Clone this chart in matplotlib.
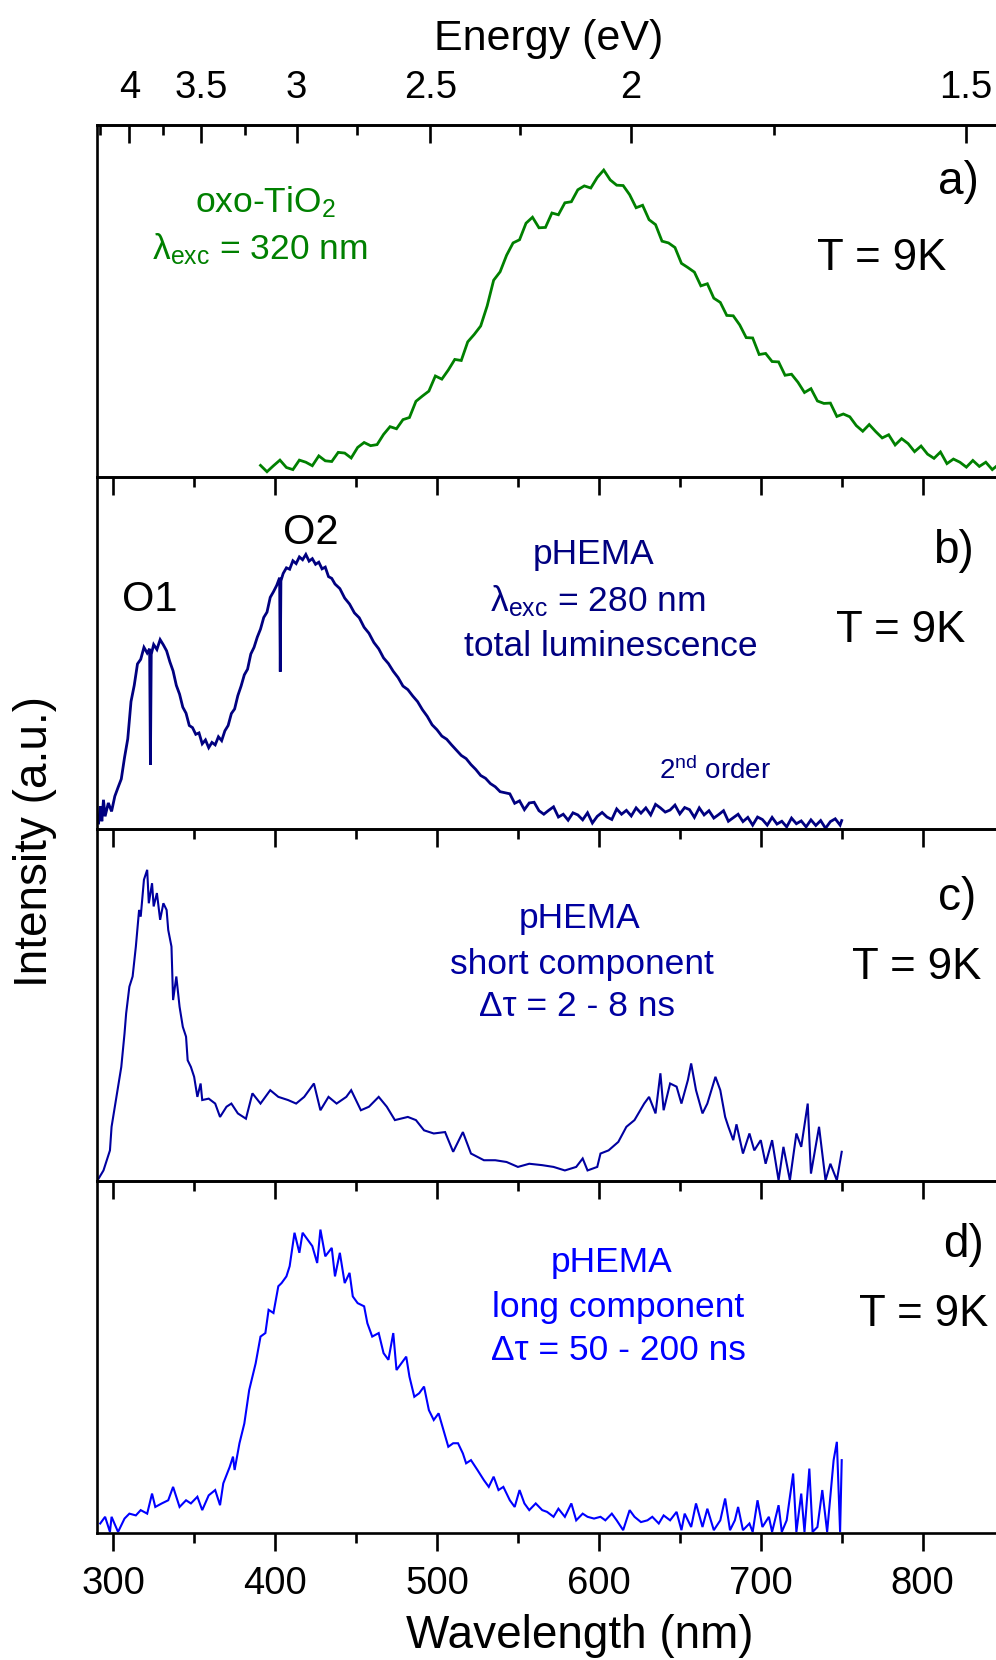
import numpy as np
import matplotlib
matplotlib.use("Agg")
import matplotlib.pyplot as plt
from matplotlib.ticker import FixedLocator, NullFormatter

plt.rcParams['font.family'] = ['Liberation Sans', 'DejaVu Sans']
plt.rcParams['mathtext.fontset'] = 'custom'
plt.rcParams['mathtext.rm'] = 'Liberation Sans'
plt.rcParams['mathtext.it'] = 'Liberation Sans:italic'
plt.rcParams['mathtext.bf'] = 'Liberation Sans:bold'

# ---------------- data (intensity in % of panel height, a.u.) ----------------
wl_a = np.arange(391, 848, 4)
int_a = [3.3, 1.5, 3.2, 4.8, 2.7, 2.1, 4.8, 4.2, 3.2, 6.0, 4.6, 4.4, 7.0, 6.8, 5.4, 8.4,
         9.8, 8.9, 9.2, 12.1, 14.3, 13.7, 16.3, 16.9, 21.5, 23.0, 24.4, 28.7, 27.8, 30.4,
         33.4, 33.1, 38.4, 40.5, 42.9, 48.6, 55.9, 58.3, 63.0, 66.5, 67.4, 72.1, 73.8, 70.8,
         70.9, 75.0, 74.5, 77.9, 78.2, 81.6, 82.7, 82.1, 85.1, 87.2, 84.4, 82.9, 82.8, 80.2,
         76.5, 77.2, 73.1, 71.7, 67.0, 66.5, 65.2, 60.7, 59.5, 58.2, 54.3, 54.9, 50.8, 49.6,
         45.9, 45.8, 43.2, 39.6, 39.5, 34.8, 35.1, 32.8, 32.7, 28.9, 29.2, 26.9, 24.0, 25.1,
         21.6, 20.9, 21.0, 17.2, 17.9, 17.1, 14.6, 13.0, 14.9, 12.9, 11.1, 12.0, 9.1, 10.9,
         9.5, 7.2, 8.8, 6.5, 5.3, 7.1, 3.8, 5.1, 4.2, 2.8, 4.7, 3.0, 4.2, 2.1, 3.6]

wl_b = [291, 292, 293, 294, 295, 297, 299, 301, 303, 305, 307, 309, 311, 313, 315, 317, 319, 321,
        322.5, 323, 323.5, 325, 327, 329, 331, 333, 335, 337, 339, 341, 343, 345, 347, 349, 351,
        353, 355, 357, 359, 361, 363, 365, 367, 369, 371, 373, 375, 377, 379, 381, 383, 385, 387,
        389, 391, 393, 395, 397, 399, 401, 402.8, 403.2, 403.6, 405, 407, 409, 411, 413, 415, 417,
        419, 421, 423, 425, 427, 429, 431, 433, 435, 437, 440, 443, 446, 449, 452, 455, 458, 461,
        464, 467, 470, 473, 476, 479, 482, 485, 488, 491, 494, 497, 500, 503, 506, 509, 512, 515,
        518, 521, 524, 527, 530, 533, 536, 539, 542, 545, 548, 551, 554, 557, 560, 563, 566, 569,
        572, 575, 578, 581, 584, 587, 590, 593, 596, 599, 602, 605, 608, 611, 614, 617, 620, 623,
        626, 629, 632, 635, 638, 641, 644, 647, 650, 653, 656, 659, 662, 665, 668, 671, 674, 677,
        680, 683, 686, 689, 692, 695, 698, 701, 704, 707, 710, 713, 716, 719, 722, 725, 728, 731,
        734, 737, 740, 743, 746, 749, 750]
int_b = [1.7, 6.5, 2.2, 8.3, 3.6, 7.4, 5.0, 9.3, 11.8, 14.2, 20.3, 25.6, 36.2, 40.8, 46.9, 48.2,
         51.6, 50.0, 51.2, 18.2, 49.6, 52.4, 51.0, 53.8, 52.3, 50.6, 47.5, 44.9, 40.8, 38.3, 34.6,
         32.9, 29.4, 28.8, 26.9, 27.3, 24.2, 25.3, 23.1, 24.6, 23.9, 26.2, 25.1, 27.9, 29.4, 32.8,
         34.1, 37.9, 40.6, 43.8, 45.4, 49.7, 51.6, 54.5, 56.8, 60.1, 61.6, 65.8, 67.4, 69.2, 71.4,
         44.7, 70.5, 72.6, 74.2, 73.8, 76.2, 75.4, 77.3, 76.5, 78.0, 76.1, 76.8, 75.2, 75.8, 73.9,
         74.4, 71.7, 71.2, 69.6, 68.3, 65.6, 63.9, 61.4, 60.0, 57.3, 55.6, 53.0, 51.2, 48.6, 47.0,
         44.8, 43.0, 40.6, 39.6, 37.8, 36.2, 33.9, 32.0, 29.6, 28.2, 26.4, 25.5, 23.9, 22.4, 20.9,
         20.0, 18.3, 16.9, 15.2, 14.4, 12.9, 12.0, 10.6, 10.3,
         10.0, 7.3, 8.0, 5.5, 7.4, 7.6, 5.2, 4.2, 5.3, 6.3, 3.4, 4.2, 2.5, 4.6, 4.0, 2.6, 4.6,
         1.7, 3.6, 4.7, 3.4, 2.7, 5.7, 4.2, 5.3, 3.7, 6.0, 4.5, 6.0, 4.0, 7.0, 6.0, 4.8, 5.4,
         6.8, 4.3, 6.1, 5.5, 3.3, 6.0, 4.0, 5.2, 3.1, 4.1, 5.2, 2.2, 3.2, 4.2, 2.1, 3.3, 1.1,
         3.4, 2.7, 1.1, 3.3, 1.4, 2.2, 0.6, 3.1, 1.5, 2.3, 0.6, 2.6, 1.0, 2.4, 0.2, 2.1, 2.9,
         1.1, 2.4]

wl_c = [291, 294, 298, 299, 302, 305, 307, 308, 310, 312, 314, 316, 317, 319, 321, 322, 324, 325,
        327, 329, 331, 333, 334, 336, 337, 339, 341, 343, 345, 346, 348, 350, 352, 354, 355, 359,
        363, 366, 370, 373, 377, 382, 386, 391, 397, 402, 408, 413, 418, 424, 428, 433, 438, 444,
        447, 453, 458, 464, 469, 474, 482, 487, 492, 498, 505, 510, 516, 521, 529, 536, 543, 550,
        557, 565, 572, 579, 586, 590, 593, 599, 601, 606, 612, 617, 622, 628, 631, 635, 638, 640,
        644, 648, 651, 655, 657, 660, 664, 667, 672, 675, 678, 680, 683, 685, 689, 693, 696, 700,
        703, 707, 711, 714, 718, 722, 725, 729, 731, 736, 740, 743, 747, 750]
int_c = [0.7, 3.0, 8.7, 15.4, 23.9, 32.4, 41.9, 47.6, 55.2, 58.1, 66.6, 77.0, 75.1, 85.6, 88.4,
         78.9, 84.6, 78.0, 81.8, 74.2, 78.9, 77.0, 71.3, 66.6, 51.4, 58.1, 49.5, 43.8, 41.0, 34.3,
         32.4, 29.6, 23.9, 27.7, 23.0, 23.4, 22.0, 18.2, 21.1, 22.0, 19.2, 17.7, 24.9, 22.0, 25.8,
         23.9, 23.0, 22.0, 23.9, 27.7, 20.1, 23.9, 22.0, 23.9, 25.8, 20.1, 21.1, 23.9, 21.1, 17.3,
         18.2, 17.3, 14.4, 13.5, 13.9, 8.3, 13.9, 7.8, 5.9, 5.9, 5.4, 4.0, 4.9, 4.5, 4.0, 3.0, 4.0,
         6.4, 3.0, 4.0, 7.8, 8.7, 11.1, 15.4, 17.3, 22.0, 23.9, 19.2, 30.6, 20.1, 27.7, 26.8, 22.0,
         28.7, 33.4, 25.8, 19.2, 22.0, 29.6, 25.8, 18.2, 15.4, 11.6, 16.1, 7.8, 13.5, 8.7, 11.6,
         4.9, 11.6, 0.2, 9.7, 0.2, 13.5, 9.7, 22.0, 2.1, 15.4, 0.2, 4.9, 0.2, 8.3]

wl_d = [292, 295, 298, 299, 303, 307, 310, 314, 317, 321, 324, 326, 330, 334, 337, 341, 345, 348,
        352, 355, 359, 363, 366, 368, 372, 374, 375, 378, 381, 384, 386, 388, 391, 394, 396, 399,
        402, 404, 407, 409, 412, 415, 417, 420, 423, 426, 428, 431, 435, 437, 440, 443, 446, 448,
        451, 455, 457, 460, 464, 467, 470, 473, 475, 478, 481, 483, 486, 489, 492, 495, 498, 501,
        504, 507, 510, 513, 516, 518, 521, 525, 529, 532, 535, 538, 541, 545, 548, 551, 554, 557,
        561, 565, 568, 572, 575, 579, 583, 586, 590, 593, 597, 601, 604, 608, 611, 615, 619, 622,
        626, 630, 633, 637, 640, 644, 648, 651, 653, 657, 660, 664, 667, 671, 675, 678, 681, 684,
        686, 689, 693, 695, 698, 701, 705, 707, 711, 713, 716, 720, 722, 725, 727, 730, 732, 735,
        738, 741, 745, 747, 749, 750]
int_d = [2.7, 4.6, 0.3, 4.6, 0.3, 4.1, 5.5, 5.0, 6.5, 5.5, 11.2, 7.4, 8.4, 9.3, 13.1, 7.4, 9.3,
         8.4, 10.3, 6.5, 10.7, 12.2, 7.9, 14.1, 18.8, 21.7, 17.9, 25.5, 31.1, 40.6, 44.4, 48.2,
         55.8, 56.8, 63.4, 62.5, 70.1, 71.0, 72.9, 75.8, 85.3, 79.6, 85.3, 83.4, 81.5, 76.7, 86.2,
         78.6, 81.0, 72.9, 79.6, 71.0, 73.9, 67.2, 65.3, 64.4, 59.6, 55.8, 56.8, 51.1, 49.2, 56.8,
         46.3, 48.2, 50.1, 44.4, 38.7, 39.7, 41.6, 34.9, 32.1, 34.0, 29.2, 24.5, 25.5, 25.5, 22.6,
         19.8, 20.7, 17.9, 15.0, 13.1, 16.0, 12.2, 13.1, 9.3, 7.4, 12.2, 8.4, 6.5, 8.4, 6.5, 6.0,
         4.6, 6.9, 4.6, 8.4, 3.6, 5.5, 4.6, 4.1, 4.6, 3.6, 5.5, 3.6, 0.8, 6.5, 4.6, 3.1, 3.6, 4.6,
         2.7, 5.0, 3.6, 6.0, 0.8, 5.5, 1.7, 8.4, 1.7, 6.9, 0.8, 3.6, 9.8, 0.8, 3.6, 7.4, 0.8, 2.7,
         0.3, 9.3, 1.7, 4.6, 0.3, 7.9, 0.3, 3.6, 16.9, 0.3, 11.2, 0.3, 18.3, 0.3, 1.7, 12.2, 0.3,
         20.7, 25.9, 0.3, 20.7]

wl_major = [300, 400, 500, 600, 700, 800]
wl_minor = [350, 450, 550, 650, 750]
energy_major = [4, 3.5, 3, 2.5, 2, 1.5]
energy_labels = ["4", "3.5", "3", "2.5", "2", "1.5"]
energy_minor = [4.25, 3.75, 3.25, 2.75, 2.25, 1.75]

HC = 1239.84  # eV*nm

# ---------------- figure ----------------
W, H = 996, 1660
fig = plt.figure(figsize=(W / 100, H / 100), dpi=100)
left = 97 / W
panel_px = [(125, 477), (477, 829), (829, 1181), (1181, 1533)]
colors = ['#008000', '#000080', '#0000A0', '#0000FF']
data = [(wl_a, int_a, 2.0), (wl_b, int_b, 2.0), (wl_c, int_c, 1.5), (wl_d, int_d, 1.5)]

SP = 1.9
axes = []
for i, ((top, bot), col, (x, y, lw)) in enumerate(zip(panel_px, colors, data)):
    ax = fig.add_axes([left, 1 - bot / H, 1 - left, (bot - top) / H])
    ax.patch.set_alpha(0)
    ax.plot(x, y, color=col, lw=lw, solid_joinstyle='miter')
    ax.set_xlim(290, 845.3)
    ax.set_ylim(0, 100)
    ax.set_yticks([])
    ax.spines['right'].set_visible(False)
    for s in ['left', 'top', 'bottom']:
        ax.spines[s].set_linewidth(SP)
    ax.xaxis.set_major_locator(FixedLocator(wl_major))
    ax.xaxis.set_minor_locator(FixedLocator(wl_minor))
    ax.tick_params(axis='x', which='major', direction='out', length=13, width=SP,
                   labelsize=27.5, pad=11, top=False)
    ax.tick_params(axis='x', which='minor', direction='out', length=7.2, width=SP, top=False)
    if i < 3:
        ax.tick_params(axis='x', labelbottom=False)
    axes.append(ax)

# top energy axis
sec = axes[0].secondary_xaxis('top', functions=(lambda v: HC / np.asarray(v, float),
                                                 lambda v: HC / np.asarray(v, float)))
sec.set_xticks(energy_major)
sec.set_xticklabels(energy_labels)
sec.xaxis.set_minor_locator(FixedLocator(energy_minor))
sec.xaxis.set_minor_formatter(NullFormatter())
sec.tick_params(axis='x', which='major', direction='in', length=13, width=SP,
                labelsize=27.5, pad=14)
sec.tick_params(axis='x', which='minor', direction='in', length=7.2, width=SP)
sec.spines['top'].set_linewidth(SP)


def T(xp, yp, s, size, color='black', ha='center', va='baseline', **kw):
    fig.text(xp / W, 1 - yp / H, s, fontsize=size, color=color, ha=ha, va=va, **kw)


# axis titles
T(549, 50, 'Energy (eV)', 31)
T(580, 1648, 'Wavelength (nm)', 33)
T(35, 841, 'Intensity (a.u.)', 33, rotation=90, va='center')

# panel a
T(265, 212, 'oxo-TiO$_2$', 25.5, colors[0])
T(260, 259, 'λ$_{\\mathrm{exc}}$ = 320 nm', 25.5, colors[0])
T(979, 194, 'a)', 33, ha='right')
T(882, 270, 'T = 9K', 31.5)

# panel b
T(150, 611, 'O1', 30)
T(311, 544, 'O2', 30)
T(594, 564, 'pHEMA', 25.5, colors[1])
T(598, 611, 'λ$_{\\mathrm{exc}}$ = 280 nm', 25.5, colors[1])
T(611, 656, 'total luminescence', 25.5, colors[1])
T(974, 563, 'b)', 33, ha='right')
T(901, 642, 'T = 9K', 31.5)
T(715, 779, '2$^{\\mathrm{nd}}$ order', 20, colors[1])

# panel c
T(580, 928, 'pHEMA', 25.5, colors[2])
T(582, 974, 'short component', 25.5, colors[2])
T(577, 1016, 'Δτ = 2 - 8 ns', 25.5, colors[2])
T(976, 910, 'c)', 33, ha='right')
T(917, 979, 'T = 9K', 31.5)

# panel d
T(612, 1272, 'pHEMA', 25.5, colors[3])
T(618, 1317, 'long component', 25.5, colors[3])
T(618, 1360, 'Δτ = 50 - 200 ns', 25.5, colors[3])
T(984, 1257, 'd)', 33, ha='right')
T(924, 1326, 'T = 9K', 31.5)

fig.savefig('out.png', dpi=100)
